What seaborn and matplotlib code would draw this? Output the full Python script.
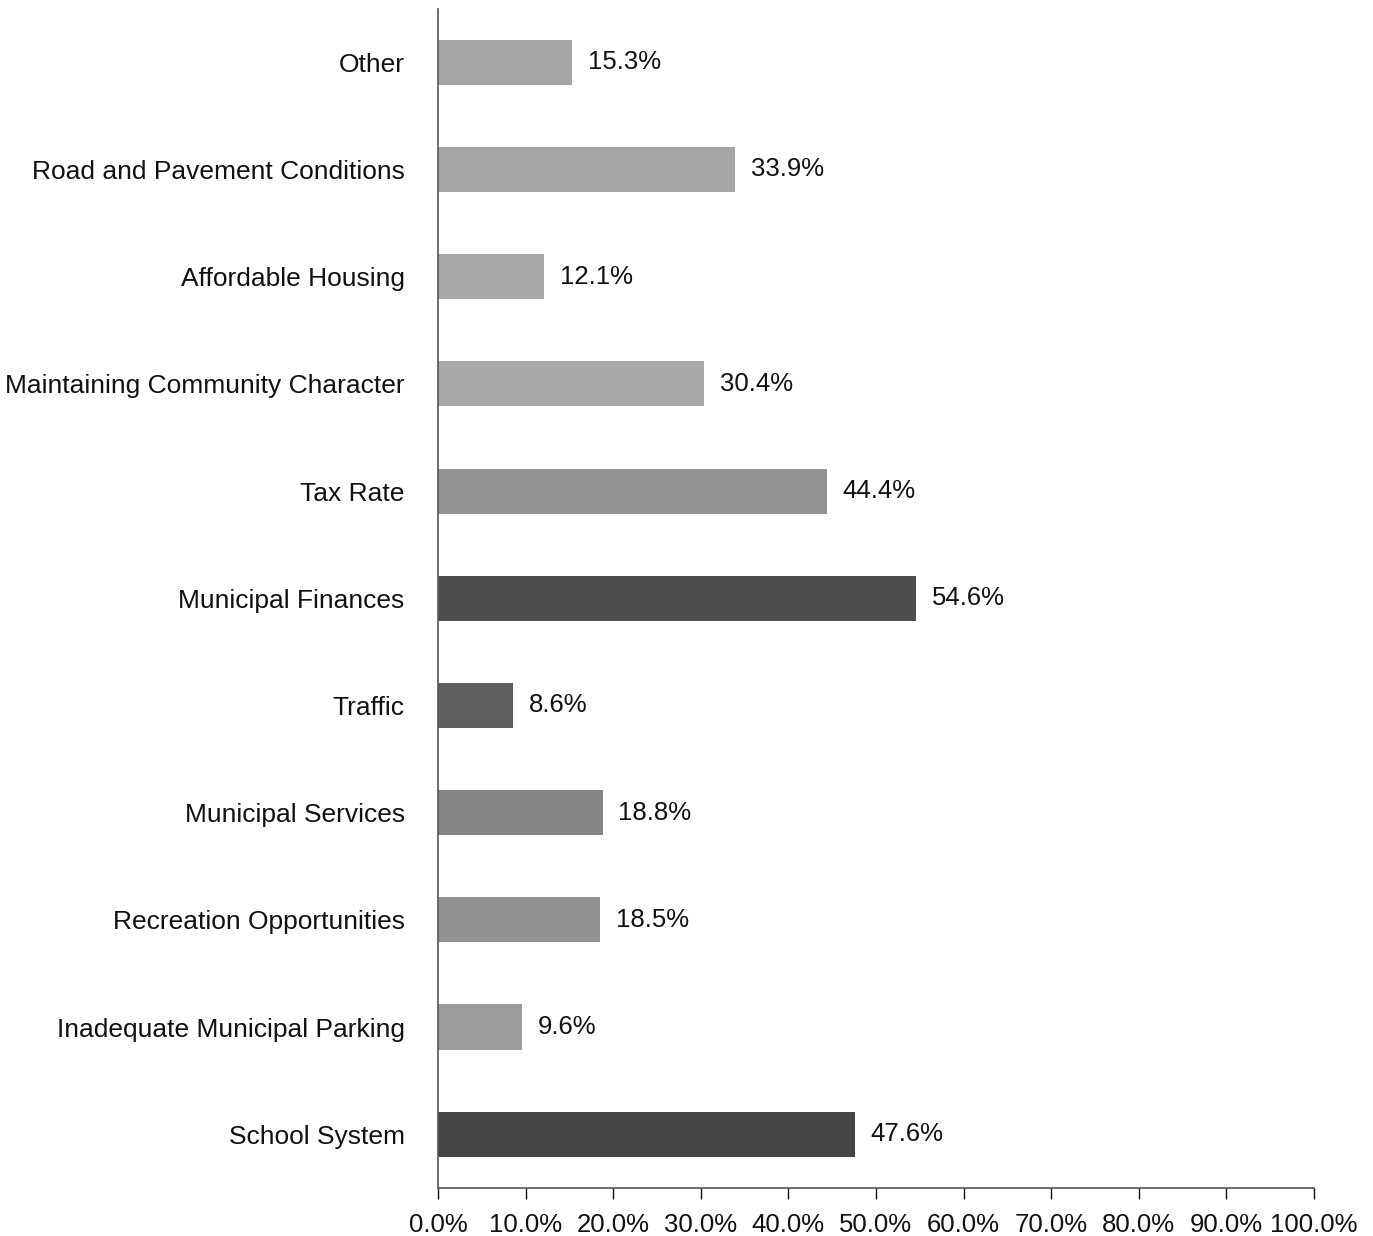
import matplotlib
matplotlib.use("Agg")
import matplotlib.pyplot as plt
import seaborn as sns
import pandas as pd
from matplotlib.ticker import FuncFormatter

categories = [
    "Other",
    "Road and Pavement Conditions",
    "Affordable Housing",
    "Maintaining Community Character",
    "Tax Rate",
    "Municipal Finances",
    "Traffic",
    "Municipal Services",
    "Recreation Opportunities",
    "Inadequate Municipal Parking",
    "School System",
]
values = [15.3, 33.9, 12.1, 30.4, 44.4, 54.6, 8.6, 18.8, 18.5, 9.6, 47.6]
bar_colors = ["#a6a6a6", "#a6a6a6", "#a8a8a8", "#a8a8a8", "#939393", "#4e4e4e",
              "#5e5e5e", "#858585", "#929292", "#9c9c9c", "#454545"]
tick_values = [0, 10, 20, 30, 40, 50, 60, 70, 80, 90, 100]

sns.set_theme(style="white")
plt.rcParams['font.family'] = ['Liberation Sans', 'DejaVu Sans']

df = pd.DataFrame({"category": categories, "value": values})

fig = plt.figure(figsize=(13.73, 12.36), dpi=100)
ax = fig.add_axes([0.319, 0.039, 0.638, 0.954])

sns.barplot(data=df, y="category", x="value", hue="category",
            palette=dict(zip(categories, bar_colors)), legend=False,
            orient="h", width=0.42, ax=ax, saturation=1, edgecolor="none")

for i, v in enumerate(values):
    ax.text(v + 1.8, i, f"{v:.1f}%", va="center", ha="left", fontsize=18.5, color="#111111")

ax.set_xlim(0, 100)
ax.set_ylim(len(categories) - 0.5, -0.5)
ax.set_xticks(tick_values)
ax.xaxis.set_major_formatter(FuncFormatter(lambda x, p: f"{x:.1f}%"))
ax.set_xlabel("")
ax.set_ylabel("")
ax.tick_params(axis="x", labelsize=18.5, length=8, width=1, direction="out",
               bottom=True, colors="#111111", pad=10)
ax.tick_params(axis="y", labelsize=19, length=0, pad=24, colors="#111111")
for s in ["top", "right"]:
    ax.spines[s].set_visible(False)
for s in ["left", "bottom"]:
    ax.spines[s].set_color("#555555")
    ax.spines[s].set_linewidth(1.2)

fig.savefig("out.png", dpi=100, facecolor="white")
